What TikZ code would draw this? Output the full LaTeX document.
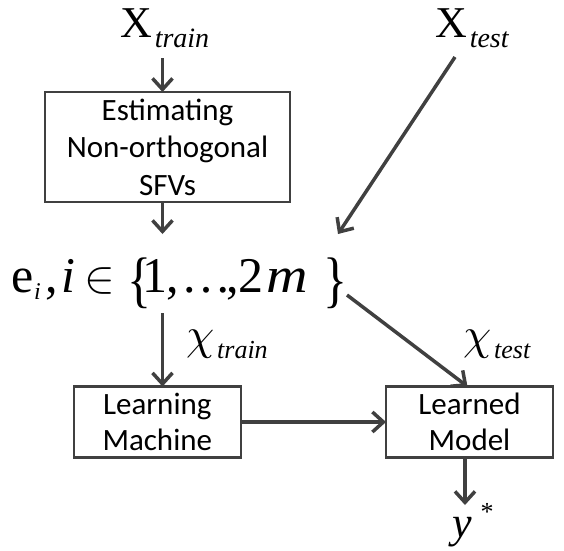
\documentclass[tikz,border=0pt]{standalone}
\usepackage{fontspec}
\setmainfont{Liberation Serif}
\newfontfamily\boxfont{Carlito}
\usetikzlibrary{arrows.meta}
\definecolor{linegray}{HTML}{404040}
% size shortcut and absolute placement of glyphs inside one line
\newcommand\fs[1]{\fontsize{#1}{#1}\selectfont}
\newcommand\putat[2]{\rlap{\hspace*{#1}#2}}
% curly italic chi taken from the math font
\newcommand\bigchi{\scalebox{4.5}{\fs{10}$\chi$}}

\begin{document}
\begin{tikzpicture}[x=1pt, y=-1pt,
  every node/.style={inner sep=0pt, outer sep=0pt},
  procbox/.style={draw=linegray, line width=2.6pt, align=center,
    minimum width=167pt, minimum height=71pt,
    font=\boxfont\fontsize{31}{36}\selectfont},
  flow/.style={draw=linegray, line width=3.5pt,
    -{Straight Barb[length=11pt, width=20pt]}},
  mathlabel/.style={anchor=base west, font=\fs{44}}]

\useasboundingbox (0,0) rectangle (564,550);

% inputs
\node[mathlabel, text height=31pt, text depth=21pt] (xtrain) at (120,37)
  {X\hspace{3pt}\raisebox{-10pt}{\fs{28}\itshape train}};
\node[mathlabel, text height=31pt, text depth=20pt] (xtest) at (435,37)
  {X\hspace{3pt}\raisebox{-10pt}{\fs{28}\itshape test}};

% feature estimation
\node[procbox, minimum width=245pt, minimum height=110pt,
      font=\boxfont\fontsize{31}{37.5}\selectfont] (est) at (167.5,147)
  {Estimating\\Non-orthogonal\\SFVs};

% feature set
\node[anchor=base west, font=\fs{50}, text height=58pt, text depth=21pt] (eset) at (12,292)
  {\putat{0pt}{e}%
   \putat{22pt}{\raisebox{-7pt}{\fs{24}\itshape i}}%
   \putat{33pt}{,}%
   \putat{50pt}{\itshape i}%
   \putat{73pt}{\scalebox{4.6}{\fs{10}$\in$}}%
   \putat{115pt}{\raisebox{-8pt}{\scalebox{1}[1.23]{\{}}}%
   \putat{130.5pt}{1}%
   \putat{154pt}{,}%
   \putat{169.5pt}{\ldots}%
   \putat{214pt}{,}%
   \putat{226.5pt}{2}%
   \putat{254pt}{\scalebox{1.15}[1]{\itshape m}}%
   \putat{311pt}{\raisebox{-8pt}{\scalebox{1}[1.23]{\}}}}%
   \hspace*{328pt}};

% training and model boxes
\node[procbox] (lm) at (157.3,422) {Learning\\Machine};
\node[procbox] (model) at (469.5,422) {Learned\\Model};

% labels on the feature arrows
\node[mathlabel] (chitrain) at (186,349.5)
  {\bigchi\hspace{3pt}\raisebox{-9pt}{\fs{26}\itshape train}};
\node[mathlabel] (chitest) at (463,349.5)
  {\bigchi\hspace{3pt}\raisebox{-9pt}{\fs{26}\itshape test}};

% output
\node[mathlabel, text height=32pt, text depth=10pt] (ystar) at (452,537)
  {\itshape y\hspace{9pt}\raisebox{17pt}{\fs{26}\upshape *}};

% columns of the vertical connectors
\coordinate (col) at (162.5,0);
\coordinate (outcol) at (465,0);

\draw[flow] (col |- xtrain.south) -- (col |- est.north);
\draw[flow] (col |- est.south) -- (col |- eset.north);
\draw[flow] ([xshift=20pt]xtest.south west) -- ([xshift=-2pt]eset.north east);
\draw[flow] (col |- eset.south) -- (col |- lm.north);
\draw[flow] ([xshift=7pt, yshift=18pt]eset.south east) -- ([xshift=-2pt]model.north);
\draw[flow] (lm.east) -- (model.west);
\draw[flow] (outcol |- model.south) -- (outcol |- ystar.north);
\end{tikzpicture}
\end{document}
